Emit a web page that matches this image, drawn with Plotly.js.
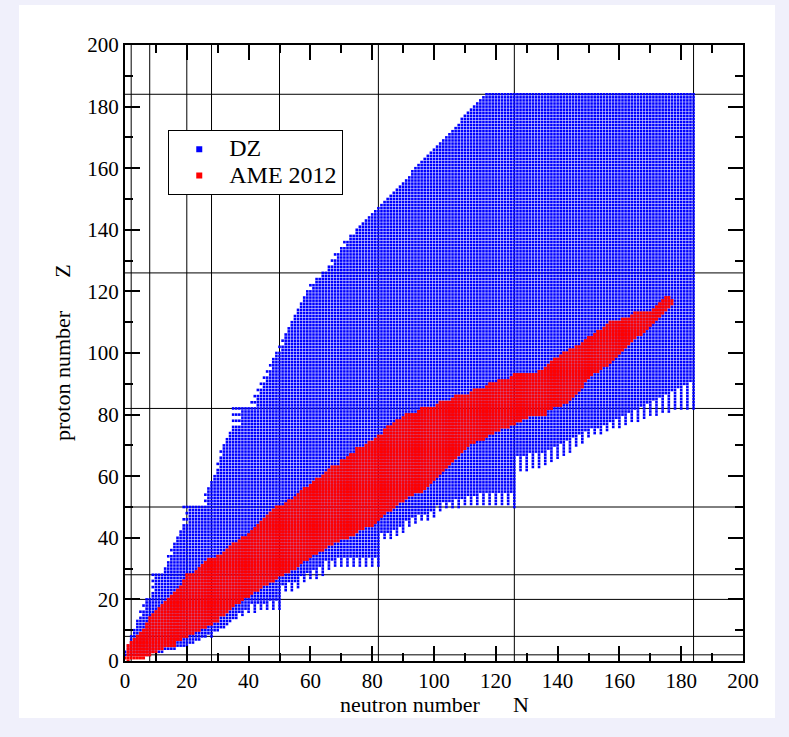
<!DOCTYPE html>
<html><head><meta charset="utf-8">
<script src="https://cdn.plot.ly/plotly-3.0.1.min.js"></script>
<style>
html,body{margin:0;padding:0;background:#f0f0fb;}
#chart{position:absolute;left:19px;top:5px;width:756px;height:713px;}
</style></head><body><div id="chart"></div>
<script>
// magic numbers (shell closures) drawn as reference lines
const magicNumbers = [2, 8, 20, 28, 50, 82, 126, 184];

// DZ table limits
const dzZmax = 184;
const dzNmax = 184;
// lowest N of DZ for each Z (index = Z, 0..184)
const dzNlow = [
 0,0,0,0,1,1,2,2,2,3, 3,4,4,4,5,6,5,7,6,7,
 7,9,9,10,9,10,9,10,9,13, 13,14,14,15,14,16,15,16,16,17,
 17,18,18,19,19,21,19,21,20,21, 19,27,26,27,26,27,27,28,28,29,
 29,30,30,31,30,31,31,32,31,32, 32,33,33,34,34,35,35,38,35,38,
 35,38,35,43,41,43,42,44,43,45, 44,46,45,47,46,48,47,48,48,49,
 49,51,50,52,51,52,52,53,53,54, 54,55,55,56,56,57,57,58,58,59,
 59,61,60,62,62,64,64,66,66,68, 67,69,68,70,70,72,71,73,73,75,
 75,76,77,78,79,80,81,82,83,84, 85,86,87,88,89,90,91,92,93,93,
 94,95,96,97,98,99,100,101,102,103, 104,105,106,107,108,109,109,110,111,112,
 113,114,115,116,117
];
// lowest Z of DZ for each N (index = N, 0..184)
const dzZlow = [
 2,2,2,2,2,2,2,2,2,3, 3,3,3,4,4,4,4,5,5,5,
 5,6,6,7,7,8,8,9,8,10, 10,11,11,12,13,14,14,16,15,17,
 16,19,16,19,17,19,17,20,17,20, 17,25,23,26,23,26,24,28,26,29,
 27,30,27,31,28,33,30,33,31,34, 31,34,31,34,31,34,31,34,31,34,
 31,34,31,42,40,42,40,43,41,44, 42,46,44,47,45,48,46,48,46,49,
 47,51,49,52,50,52,50,53,50,53, 51,54,51,54,51,55,51,55,51,55,
 51,55,51,55,51,55,50,67,62,67, 62,68,63,68,63,68,64,69,65,70,
 66,71,67,72,68,73,70,74,71,75, 73,76,74,76,74,77,75,78,76,79,
 76,80,77,81,78,82,78,83,79,84, 80,85,80,86,81,87,81,88,82,89,
 82,90,82,91,82
];

// AME 2012: N range for each Z (index = Z, 0..118)
const ameNmin = [
 1,0,1,1,1,1,2,3,4,5, 6,7,7,8,8,9,10,11,12,13,
 14,15,16,17,18,19,19,20,20,23, 24,25,26,27,30,32,33,34,35,37,
 38,40,41,42,43,44,45,46,47,48, 49,52,53,55,56,57,58,60,61,62,
 64,65,66,67,70,70,72,73,75,75, 78,79,81,82,84,84,85,87,88,90,
 91,95,96,101,102,106,107,112,113,117, 118,121,125,126,134,136,137,138,139,141,
 142,144,146,148,149,150,152,153,155,156, 157,161,164,165,171,172,173,174,175
];
const ameNmax = [
 1,6,8,10,12,16,16,18,20,22, 24,26,28,30,30,32,33,34,35,37,
 38,40,41,43,44,46,48,49,51,53, 55,56,57,59,60,62,64,65,67,69,
 72,74,75,77,80,81,82,83,84,86, 87,88,90,91,93,96,97,98,99,100,
 101,102,103,104,105,106,107,108,109,110, 111,113,116,117,119,121,124,126,128,130,
 136,136,138,141,143,144,145,146,147,148, 148,149,150,151,153,154,156,157,158,159,
 160,161,162,163,164,165,167,168,169,170, 171,172,173,174,175,176,177,177,176
];

// legend and axis texts
const seriesNames = ['DZ', 'AME 2012'];
const xTitle = 'neutron number\u00a0\u00a0\u00a0\u00a0\u00a0\u00a0N';
const yTitle = 'proton number\u00a0\u00a0\u00a0\u00a0\u00a0\u00a0Z';

// expand the tables into nuclide cells
const dzN = [], dzZ = [];
for (let z = 0; z <= dzZmax; z++) {
  for (let n = dzNlow[z]; n <= dzNmax; n++) {
    if (z >= dzZlow[n]) { dzN.push(n); dzZ.push(z); }
  }
}
const ameN = [], ameZ = [];
for (let z = 0; z < ameNmin.length; z++) {
  for (let n = ameNmin[z]; n <= ameNmax[z]; n++) { ameN.push(n); ameZ.push(z); }
}

const FONT = '"Liberation Serif", "Times New Roman", serif';
const BLUE = '#0000ff', RED = '#ff0000';
const legendName = s => '<span style="font-size:24px">' + s + '</span>';

const traces = [
  {type:'scatter', mode:'markers', x:dzN, y:dzZ, showlegend:false, hoverinfo:'skip',
   marker:{symbol:'square', size:2.6, color:BLUE, line:{width:0}}},
  {type:'scatter', mode:'markers', x:ameN, y:ameZ, showlegend:false, hoverinfo:'skip',
   marker:{symbol:'square', size:3.0, color:RED, line:{width:0}}},
  {type:'scatter', mode:'markers', x:[null], y:[null], name:legendName(seriesNames[0]),
   marker:{symbol:'square', size:6, color:BLUE, line:{width:0}}},
  {type:'scatter', mode:'markers', x:[null], y:[null], name:legendName(seriesNames[1]),
   marker:{symbol:'square', size:6, color:RED, line:{width:0}}}
];

const shapes = [];
magicNumbers.forEach(m => {
  shapes.push({type:'line', xref:'x', yref:'y', x0:m, x1:m, y0:0, y1:200, layer:'below', line:{color:'#000', width:1}});
  shapes.push({type:'line', xref:'x', yref:'y', x0:0, x1:200, y0:m, y1:m, layer:'below', line:{color:'#000', width:1}});
});

const axisCommon = {
  range:[0,200], dtick:20, tick0:0, ticks:'inside', ticklen:15, tickwidth:2, tickcolor:'#000',
  showline:true, linewidth:2, linecolor:'#000', mirror:'allticks', showgrid:false, zeroline:false,
  minor:{ticks:'inside', dtick:10, ticklen:8, tickwidth:2, tickcolor:'#000', showgrid:false},
  tickfont:{family:FONT, size:21, color:'#000'}, fixedrange:true
};

const layout = {
  width:756, height:713,
  margin:{l:106, r:32, t:40, b:57},
  paper_bgcolor:'#ffffff', plot_bgcolor:'#ffffff',
  showlegend:true,
  legend:{x:0.07, y:0.862, xanchor:'left', yanchor:'top', bgcolor:'#ffffff', bordercolor:'#000', borderwidth:1,
          font:{family:FONT, size:18, color:'#000'}, itemwidth:50, tracegroupgap:0},
  xaxis:Object.assign({}, axisCommon),
  yaxis:Object.assign({}, axisCommon),
  annotations:[
    {text:xTitle, xref:'paper', yref:'paper', x:0.5, y:0, xanchor:'center', yanchor:'middle', yshift:-43,
     showarrow:false, font:{family:FONT, size:22, color:'#000'}},
    {text:yTitle, xref:'paper', yref:'paper', x:0, y:0.5, xanchor:'center', yanchor:'middle', xshift:-63,
     textangle:-90, showarrow:false, font:{family:FONT, size:22, color:'#000'}}
  ],
  shapes:shapes
};

Plotly.newPlot('chart', traces, layout, {staticPlot:true, displayModeBar:false});
</script></body></html>
